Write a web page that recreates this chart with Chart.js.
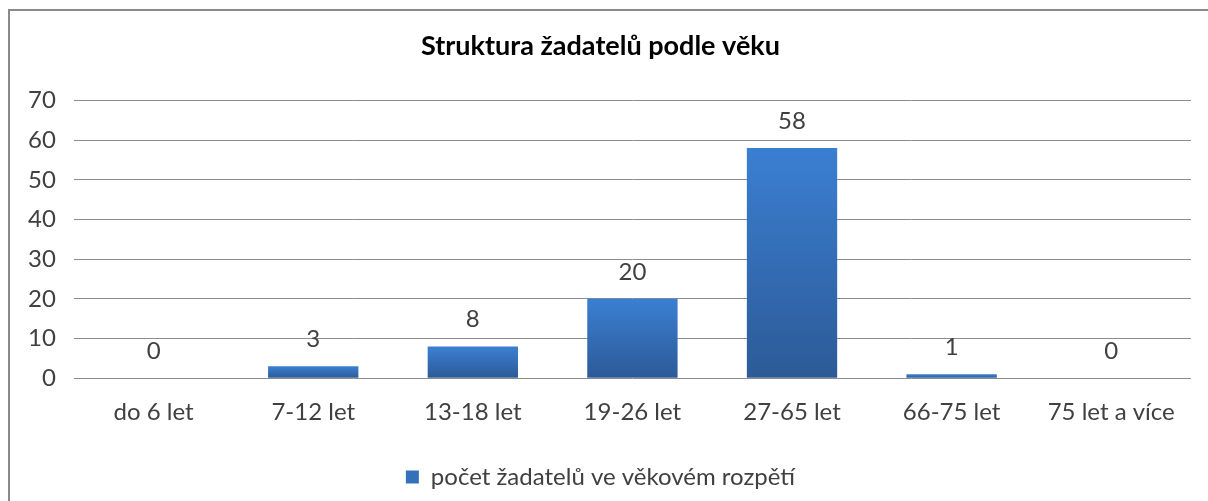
<!DOCTYPE html>
<html>
<head>
<meta charset="utf-8">
<script src="https://cdn.jsdelivr.net/npm/chart.js@4"></script>
<style>
	body { margin: 0; background: #fff; }
	#wrap {
		position: absolute;
		left: 8px;
		top: 9px;
		width: 1200px;
		height: 492px;
		border-left: 2px solid #8a8a8a;
		border-top: 2px solid #8a8a8a;
	}
</style>
</head>
<body>
<div id="wrap"><canvas id="vekChart"></canvas></div>
<script>
const kategorie = ["do 6 let", "7-12 let", "13-18 let", "19-26 let", "27-65 let", "66-75 let", "75 let a více"];
const pocet = [0, 3, 8, 20, 58, 1, 0];
const popisSerie = "počet žadatelů ve věkovém rozpětí";

const pismo = "Lato, 'Noto Sans', sans-serif";

// hodnoty nad sloupci
const popiskyPlugin = {
	id: "popisky",
	afterDatasetsDraw(chart) {
		const ctx = chart.ctx;
		const meta = chart.getDatasetMeta(0);
		ctx.save();
		ctx.font = "24px " + pismo;
		ctx.fillStyle = "#404040";
		ctx.textAlign = "center";
		ctx.textBaseline = "middle";
		meta.data.forEach(function (bar, i) {
			ctx.fillText(pocet[i], bar.x, bar.y - 27);
		});
		ctx.restore();
	},
};

// kazdy sloupec ma vlastni prechod shora dolu
function prechod(context) {
	const chart = context.chart;
	const area = chart.chartArea;
	if (!area || context.type !== "data") return "#3570bb";
	const y = chart.scales.y;
	const top = y.getPixelForValue(pocet[context.dataIndex]);
	const bottom = y.getPixelForValue(0);
	if (bottom - top < 1) return "#3570bb";
	const g = chart.ctx.createLinearGradient(0, top, 0, bottom);
	g.addColorStop(0, "#3b7fd2");
	g.addColorStop(1, "#2c5a97");
	return g;
}

var vekCanvas = document.getElementById("vekChart");
var vekChart = new Chart(vekCanvas, {
	type: "bar",
	data: {
		labels: kategorie,
		datasets: [
			{
				label: popisSerie,
				data: pocet,
				backgroundColor: prechod,
				borderColor: "rgba(255,255,255,0)",
				categoryPercentage: 0.566,
				barPercentage: 1,
			},
		],
	},
	options: {
		maintainAspectRatio: false,
		responsive: true,
		animation: false,
		layout: { padding: { left: 0, right: 19, top: 0, bottom: 4 } },
		scales: {
			x: {
				grid: { display: false, drawTicks: false },
				border: { display: false },
				ticks: { color: "#404040", font: { family: pismo, size: 24 }, padding: 20 },
			},
			y: {
				min: 0,
				max: 70,
				ticks: { stepSize: 10, color: "#404040", font: { family: pismo, size: 24 }, padding: 18 },
				grid: { color: "#8c8c8c", lineWidth: 1, drawTicks: false },
				border: { display: false },
			},
		},
		plugins: {
			title: {
				display: true,
				text: "Struktura žadatelů podle věku",
				color: "#000",
				font: { family: pismo, size: 27, weight: "bold" },
				padding: { top: 19, bottom: 38 },
			},
			legend: {
				position: "bottom",
				labels: {
					color: "#404040",
					font: { family: pismo, size: 24 },
					boxWidth: 13,
					boxHeight: 13,
					padding: 18,
					generateLabels: function (chart) {
						return [
							{
								text: popisSerie,
								fillStyle: "#3570bb",
								strokeStyle: "#3570bb",
								lineWidth: 0,
								fontColor: "#404040",
								datasetIndex: 0,
							},
						];
					},
				},
			},
			tooltip: { enabled: false },
		},
	},
	plugins: [popiskyPlugin],
});
</script>
</body>
</html>
